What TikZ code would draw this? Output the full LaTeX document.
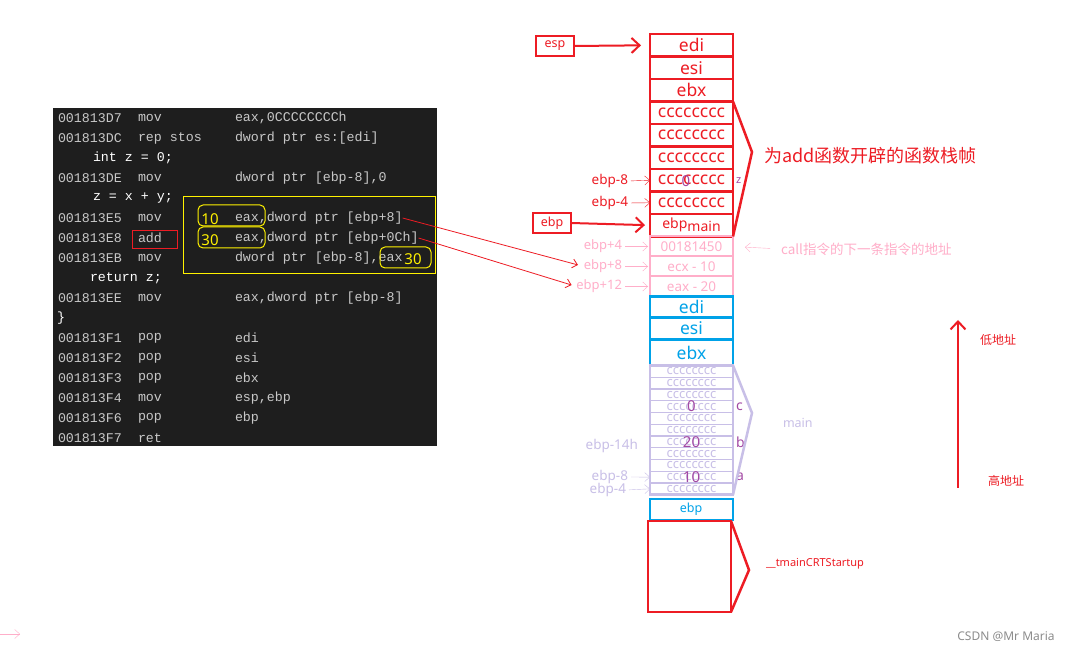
\documentclass[tikz,border=0pt]{standalone}
\usepackage{fontspec}
\setmainfont{Noto Sans}
\newfontfamily\cjk{Noto Sans CJK SC}
\newfontfamily\codefont{Liberation Mono}
\usepackage{xcolor}
\usetikzlibrary{positioning, arrows.meta}
\definecolor{pred}{RGB}{237,28,36}
\definecolor{ppink}{RGB}{255,174,201}
\definecolor{pblue}{RGB}{0,162,232}
\definecolor{plav}{RGB}{200,191,231}
\definecolor{ppurple}{RGB}{163,73,164}
\definecolor{pyellow}{RGB}{255,242,0}
\definecolor{codebg}{RGB}{30,30,30}
\definecolor{codegray}{RGB}{200,200,200}

\begin{document}
\begin{tikzpicture}[x=1pt, y=-1pt, >={Straight Barb[length=5pt,width=9pt]}, outer sep=0pt, inner sep=0pt,
  bigarrow/.style={-{Straight Barb[length=8pt,width=15pt]}, line width=2pt},
  asm/.style={anchor=west, text=codegray, font=\codefont\fontsize{13.3}{14}\selectfont},
  src/.style={asm, text=white},
  cell/.style={draw, minimum width=83pt},
  redcell/.style={cell, draw=pred, line width=2.5pt, minimum height=22.5pt, text=pred, font=\fontsize{17.5}{18}\selectfont},
  pinkcell/.style={cell, draw=ppink, line width=2pt, minimum height=20pt, text=ppink, font=\fontsize{13.5}{14}\selectfont},
  bluecell/.style={cell, draw=pblue, line width=2.5pt, text=pblue, font=\fontsize{17.5}{18}\selectfont},
  lavcell/.style={cell, draw=plav, line width=1.2pt, minimum height=11.75pt, text=plav, font=\fontsize{13}{13}\selectfont},
  redlbl/.style={anchor=east, text=pred, font=\fontsize{13.5}{14}\selectfont},
  pinklbl/.style={anchor=east, text=ppink, font=\fontsize{13}{13}\selectfont},
  lavlbl/.style={anchor=east, text=plav, font=\fontsize{13.5}{14}\selectfont},
  num/.style={text=ppurple, font=\fontsize{15}{15}\selectfont},
  ynum/.style={text=pyellow, font=\fontsize{15}{15}\selectfont},
  regbox/.style={draw=pred, line width=2pt, minimum width=38pt, minimum height=20pt, text=pred, font=\fontsize{12.5}{13}\selectfont},
  ybox/.style={pyellow, line width=1pt, rounded corners=5pt}
]
\path[use as bounding box, fill=white] (0,0) rectangle (1072,652);

% disassembly of add
\fill[codebg] (53,108) rectangle (437,446);
\foreach \n/\ad/\mn/\op in {1/001813D7/mov/{eax,0CCCCCCCCh}, 2/001813DC/rep stos/{dword ptr es:[edi]},
    4/001813DE/mov/{dword ptr [ebp-8],0}, 6/001813E5/mov/{eax,dword ptr [ebp+8]},
    7/001813E8/add/{eax,dword ptr [ebp+0Ch]}, 8/001813EB/mov/{dword ptr [ebp-8],eax},
    10/001813EE/mov/{eax,dword ptr [ebp-8]}, 12/001813F1/pop/edi, 13/001813F2/pop/esi,
    14/001813F3/pop/ebx, 15/001813F4/mov/{esp,ebp}, 16/001813F6/pop/ebp, 17/001813F7/ret/{}}
{
  \node[asm] (ad\n) at (58,98+20*\n) {\ad};
  \node[asm] (mn\n) at (138,98+20*\n) {\mn};
  \node[asm] (op\n) at (235,98+20*\n) {\op};
}
\node[src] (s3) at (93,158) {int z = 0;};
\node[src] (s5) at (93,198) {z = x + y;};
\node[src] (s9) at (90,278) {return z;};
\node[src] (s11) at (57,318) {\}};

\draw[pyellow, line width=1pt] (183,197) rectangle (435,274);
\draw[ybox] (198,205) rectangle (265,226);
\draw[ybox] (198,227) rectangle (265,248);
\draw[ybox] (380,247) rectangle (431,268);
\draw[pred, line width=1pt] (132,231) rectangle (177,249);
\node[ynum] (y10) at (210,219) {10};
\node[ynum] (y30) at (210,240) {30};
\node[ynum] (y30b) at (413,259) {30};

% add frame
\node[redcell] (redi) at (691.5,45.25) {edi};
\node[redcell, below=0pt of redi] (resi) {esi};
\node[redcell, below=0pt of resi] (rebx) {ebx};
\node[redcell, below=0pt of rebx] (c1) {cccccccc};
\node[redcell, below=0pt of c1] (c2) {cccccccc};
\node[redcell, below=0pt of c2] (c3) {cccccccc};
\node[redcell, below=0pt of c3] (c4) {cccccccc};
\node[redcell, below=0pt of c4] (c5) {cccccccc};
\node[redcell, below=0pt of c5, font=\fontsize{14}{14}\selectfont] (ebpm) {ebp\raisebox{-3pt}{main}};
\node[num] (z0) at (686,181) {0};
\node[right=3pt of c4, text=ppurple, font=\bfseries\fontsize{11}{11}\selectfont] (zname) {z};

\node[pinkcell, below=0pt of ebpm] (ret) {00181450};
\node[pinkcell, below=0pt of ret] (argx) {ecx - 10};
\node[pinkcell, below=0pt of argx] (argy) {eax - 20};

% main frame
\node[bluecell, below=0pt of argy, minimum height=21pt] (bedi) {edi};
\node[bluecell, below=0pt of bedi, minimum height=22pt] (besi) {esi};
\node[bluecell, below=0pt of besi, minimum height=26pt] (bebx) {ebx};
\foreach \i in {1,...,11}
  \node[lavcell] (m\i) at (691.5,{359.6+11.75*\i}) {cccccccc};
\draw[plav, line width=2.5pt] (m1.north west) rectangle (m11.south east);
\node[num] (n0) at (m4) {0};
\node[num] (n20) at (m7) {20};
\node[num] (n10) at (m10) {10};
\node[num, right=3pt of m4, font=\fontsize{14}{14}\selectfont] (vc) {c};
\node[num, right=3pt of m7, font=\fontsize{14}{14}\selectfont] (vb) {b};
\node[num, right=3pt of m10, font=\fontsize{14}{14}\selectfont] (va) {a};

\node[bluecell, line width=2pt, minimum height=21pt, font=\fontsize{12.5}{13}\selectfont] (bebp) at (691,509.5) {ebp};
\node[cell, draw=pred, line width=2.5pt, minimum height=91pt] (crt) at (689.5,566.5) {};

% braces and labels
\coordinate (addtip) at (752,152);
\coordinate (maintip) at (752,413);
\coordinate (crttip) at (749,570);
\draw[pred, line width=2.5pt] (c1.north east) -- (addtip) -- (ebpm.south east);
\draw[plav, line width=2.5pt] (m1.north east) -- (maintip) -- (m11.south east);
\draw[pred, line width=2.5pt] (crt.north east) -- (crttip) -- (crt.south east);
\node[anchor=west, text=pred, font=\cjk\fontsize{18}{18}\selectfont] (addlbl) at (764,156) {为add函数开辟的函数栈帧};
\node[anchor=west, text=plav, font=\bfseries\fontsize{12.5}{12}\selectfont] (mainlbl) at (783,423) {main};
\node[anchor=west, text=pred, font=\fontsize{11}{11}\selectfont] (crtlbl) at (766,564) {\_\_tmainCRTStartup};
\node[anchor=west, text=ppink, font=\cjk\fontsize{13.5}{14}\selectfont] (calllbl) at (781,249) {call指令的下一条指令的地址};
\draw[->, ppink, shorten <=11pt, shorten >=12pt] (calllbl.west) -- (ret.east);

% registers and offsets
\node[regbox] (esp) at (555,46) {esp};
\node[regbox] (ebpbox) at (552,223) {ebp};
\draw[bigarrow, pred, shorten >=9pt] (esp.east) -- (redi.west);
\draw[bigarrow, pred, shorten >=5pt] (ebpbox.east) -- (ebpm.west);
\node[redlbl] (lm8) at (628,181) {ebp-8};
\node[redlbl] (lm4) at (628,203) {ebp-4};
\draw[->, pred, shorten <=3pt] (lm8.east) -- (c4.west);
\draw[->, pred, shorten <=3pt] (lm4.east) -- (c5.west);
\node[pinklbl] (lp4) at (622,246.5) {ebp+4};
\node[pinklbl] (lp8) at (622,266.5) {ebp+8};
\node[pinklbl] (lp12) at (622,286.5) {ebp+12};
\draw[->, ppink, shorten <=3pt, shorten >=2pt] (lp4.east) -- (ret.west);
\draw[->, ppink, shorten <=3pt, shorten >=2pt] (lp8.east) -- (argx.west);
\draw[->, ppink, shorten <=3pt, shorten >=2pt] (lp12.east) -- (argy.west);
\draw[->, pred, line width=0.8pt, shorten >=6pt] (op6.east) -- (lp8.west);
\draw[->, pred, line width=0.8pt, shorten >=5pt] (op7.east) -- (lp12.west);
\node[lavlbl] (l14) at (638,446) {ebp-14h};
\node[lavlbl] (ll8) at (628,477) {ebp-8};
\node[lavlbl] (ll4) at (626,490) {ebp-4};
\draw[->, plav, shorten <=3pt] (ll8.east) -- (m10.west);
\draw[->, plav, shorten <=3pt] (ll4.east) -- (m11.west);

% address direction
\coordinate (hiaddr) at (958,488);
\coordinate (loaddr) at (958,320);
\draw[bigarrow, pred] (hiaddr) -- (loaddr);
\node[text=pred, font=\cjk\fontsize{12}{12}\selectfont] (lolbl) at (998,340) {低地址};
\node[text=pred, font=\cjk\fontsize{12}{12}\selectfont] (hilbl) at (1006,481) {高地址};

\coordinate (pa) at (0,634);
\coordinate (pb) at (20,634);
\draw[->, ppink] (pa) -- (pb);
\node[text=black!45, font=\fontsize{12}{12}\selectfont] (wm) at (1006,637) {CSDN @Mr Maria};
\end{tikzpicture}
\end{document}
